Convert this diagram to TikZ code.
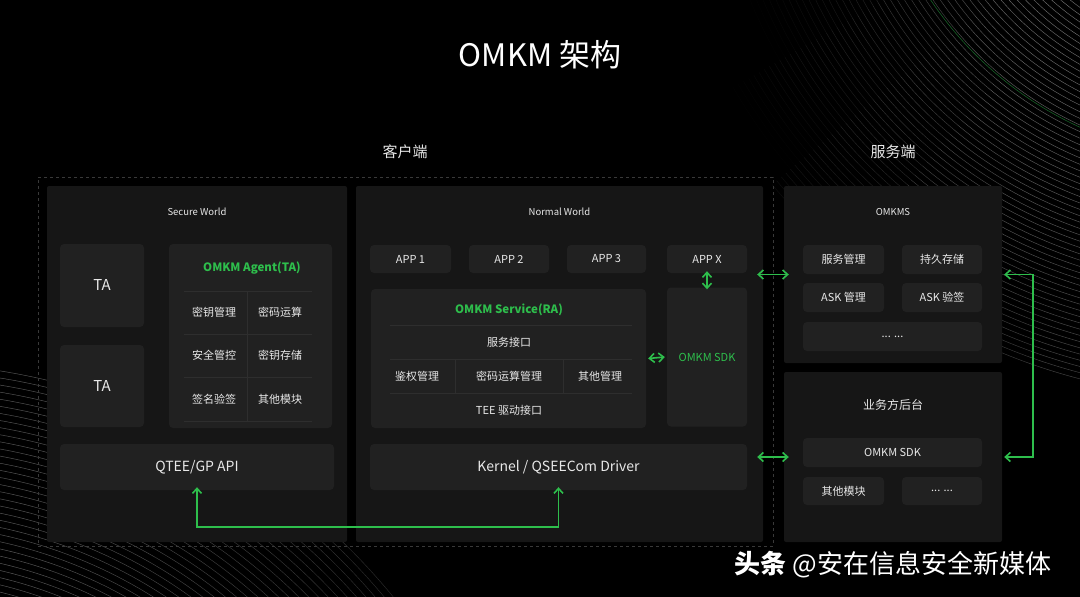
\documentclass[tikz,border=0pt]{standalone}
\usepackage{fontspec}
\setmainfont{Noto Sans CJK SC}
\usetikzlibrary{arrows.meta}
\definecolor{bgc}{RGB}{0,0,0}
\definecolor{panelc}{RGB}{22,22,22}
\definecolor{boxc}{RGB}{33,33,33}
\definecolor{divc}{RGB}{46,46,46}
\definecolor{omkgreen}{RGB}{46,190,76}
\definecolor{fgc}{RGB}{232,232,232}
\begin{document}
\begin{tikzpicture}[x=1pt, y=-1pt,
    sz/.style 2 args={minimum width=#1pt, minimum height=#2pt},
    panel/.style={fill=panelc, rounded corners=2pt, inner sep=0pt},
    blk/.style={fill=boxc, rounded corners=4pt, inner sep=0pt, text=fgc, font=\fontsize{11}{13}\selectfont},
    lbl/.style={text=fgc, inner sep=0pt, font=\fontsize{11}{13}\selectfont},
    head/.style={text=omkgreen, inner sep=0pt, font=\fontsize{11.5}{13}\selectfont\bfseries},
    link/.style={<->, >={Straight Barb[length=5pt,width=9pt]}, draw=omkgreen, line width=1.6pt},
    divline/.style={draw=divc, line width=0.6pt}]
    % background
    \fill[bgc] (0,0) rectangle (1080,597);
    \useasboundingbox (0,0) rectangle (1080,597);
    \begin{scope}
        \clip (0,0) rectangle (1080,597);
        % waves, upper right
        \foreach \r in {250,256,...,600}
            \foreach \a in {90,100,...,170} {
                \pgfmathtruncatemacro\k{max(0,min(45,(1230+\r*cos(\a+5)-750)/6))*(1-(\r-250)/900)}
                \draw[draw=white!\k!black, line width=0.45pt] (1230,-200) ++(\a:\r) arc[start angle=\a, end angle=\a+10, radius=\r];
            }
        \draw[draw=omkgreen!50!black, line width=0.6pt] (1230,-200) ++(112:360) arc[start angle=112, end angle=150, radius=360];
        % waves, lower left
        \foreach \r in {420,427,...,640}
            \foreach \a in {-95,-90,...,-35} {
                \pgfmathtruncatemacro\k{max(0,min(36,36-(-100+\r*cos(\a+2.5))/20))}
                \draw[draw=white!\k!black, line width=0.45pt] (-100,1000) ++(\a:\r) arc[start angle=\a, end angle=\a+5, radius=\r];
            }
    \end{scope}

    % titles
    \node[text=white, inner sep=0pt, font=\fontsize{31}{33}\selectfont] (title) at (540,55) {OMKM 架构};
    \node[lbl, font=\fontsize{15}{17}\selectfont] (clientlbl) at (405,152) {客户端};
    \node[lbl, font=\fontsize{15}{17}\selectfont] (serverlbl) at (893,152) {服务端};

    % client side
    \node[draw=gray!45!black, dashed, line width=0.8pt, inner sep=0pt, sz={735}{369}] (client) at (405.5,361.5) {};
    \node[panel, sz={300}{356}] (sw) at (197,364) {};
    \node[panel, sz={407}{356}] (nw) at (559.5,364) {};
    \node[lbl, font=\fontsize{9.5}{11}\selectfont] (swlbl) at (197,212) {Secure World};
    \node[lbl, font=\fontsize{9.5}{11}\selectfont] (nwlbl) at (559.5,212) {Normal World};

    % Secure World
    \node[blk, sz={84}{83}, font=\fontsize{15}{17}\selectfont] (ta1) at (102,285.5) {TA};
    \node[blk, sz={84}{82}, font=\fontsize{15}{17}\selectfont] (ta2) at (102,386) {TA};
    \node[blk, sz={163}{184}] (agent) at (250.5,336) {};
    \node[head] (agentlbl) at (252,268) {OMKM Agent(TA)};
    \foreach \y in {291,334,377,421}
        \draw[divline] (184,\y) -- (312,\y);
    \draw[divline] (247,291) -- (247,421);
    \node[lbl] (a11) at (214,312) {密钥管理};
    \node[lbl] (a12) at (280,312) {密码运算};
    \node[lbl] (a21) at (214,355) {安全管控};
    \node[lbl] (a22) at (280,355) {密钥存储};
    \node[lbl] (a31) at (214,399) {签名验签};
    \node[lbl] (a32) at (280,399) {其他模块};
    \node[blk, sz={274}{46}, font=\fontsize{14}{16}\selectfont] (qtee) at (197,467) {QTEE/GP API};

    % Normal World
    \node[blk, sz={81}{28}] (app1) at (410.5,259) {APP 1};
    \node[blk, sz={80}{28}] (app2) at (509,259) {APP 2};
    \node[blk, sz={79}{28}] (app3) at (606.5,259) {APP 3};
    \node[blk, sz={80}{28}] (appx) at (707,259) {APP X};
    \node[blk, sz={275}{139}] (svc) at (508.5,358.5) {};
    \node[head] (svclbl) at (509,310) {OMKM Service(RA)};
    \foreach \y in {325,359,393}
        \draw[divline] (390,\y) -- (632,\y);
    \draw[divline] (455,359) -- (455,393);
    \draw[divline] (563,359) -- (563,393);
    \node[lbl] (s1) at (509,342) {服务接口};
    \node[lbl] (s21) at (417,376) {鉴权管理};
    \node[lbl] (s22) at (509,376) {密码运算管理};
    \node[lbl] (s23) at (600,376) {其他管理};
    \node[lbl] (s3) at (509,410) {TEE 驱动接口};
    \node[blk, sz={80}{139}, text=omkgreen] (sdk) at (707,357) {OMKM SDK};
    \node[blk, sz={377}{46}, font=\fontsize{14}{16}\selectfont] (kernel) at (558.5,467) {Kernel / QSEECom Driver};

    % server side
    \node[panel, sz={218}{177}] (kms) at (893,274.5) {};
    \node[lbl, font=\fontsize{9.5}{11}\selectfont] (kmslbl) at (893,212) {OMKMS};
    \node[blk, sz={81}{29}] (kmgmt) at (843.5,259.5) {服务管理};
    \node[blk, sz={80}{29}] (kstore) at (942,259.5) {持久存储};
    \node[blk, sz={81}{29}] (kaskm) at (843.5,297.5) {ASK 管理};
    \node[blk, sz={80}{29}] (kasks) at (942,297.5) {ASK 验签};
    \node[blk, sz={179}{29}] (ketc) at (892.5,336.5) {... ...};
    \node[panel, sz={218}{170}] (biz) at (893,457) {};
    \node[lbl, font=\fontsize{12}{14}\selectfont] (bizlbl) at (893,405) {业务方后台};
    \node[blk, sz={179}{29}] (bsdk) at (892.5,452.5) {OMKM SDK};
    \node[blk, sz={81}{28}] (bother) at (843.5,491) {其他模块};
    \node[blk, sz={80}{28}] (betc) at (942,491) {... ...};

    % links
    \draw[link] ([yshift=3pt]qtee.south) -- ++(0,40) -| ([yshift=3pt]kernel.south);
    \draw[link] ([yshift=2pt]appx.south) -- ([yshift=-2pt]sdk.north);
    \draw[link] ([xshift=2pt]svc.east) -- ([xshift=-2pt]sdk.west);
    \draw[link] ([xshift=-6pt]kms.west -| nw.east) -- ([xshift=5pt]kms.west);
    \draw[link] ([xshift=-6pt]biz.west -| nw.east) -- ([xshift=5pt]biz.west);
    \draw[link] ([xshift=2pt]kms.east) -- ++(29,0) |- ([xshift=2pt]biz.east);

    % watermark
    \node[text=white, inner sep=0pt, font=\fontsize{26}{28}\selectfont] (mark) at (893,565) {\textbf{头条} @安在信息安全新媒体};
\end{tikzpicture}
\end{document}
